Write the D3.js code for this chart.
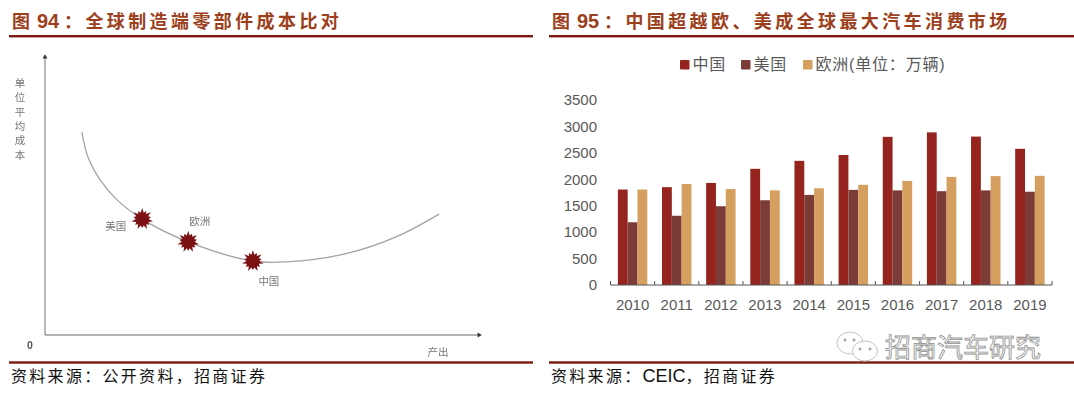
<!DOCTYPE html>
<html>
<head>
<meta charset="utf-8">
<script src="https://cdn.jsdelivr.net/npm/d3@7"></script>
<style>
	html, body { margin: 0; padding: 0; background: #fff; }
	svg { display: block; }
	text { font-family: "Liberation Sans", "Noto Sans CJK SC", sans-serif; }
	.title { font-size: 18px; font-weight: 700; fill: #9b3f1c; letter-spacing: 3.4px; }
	.title .num { font-size: 20px; letter-spacing: 0; }
	.source { font-size: 16px; fill: #111; letter-spacing: 2.3px; }
	.source .latin { font-size: 18px; letter-spacing: 0; }
	.axis text { font-size: 15px; fill: #595959; font-family: "Liberation Sans", sans-serif; }
	.legend-label { font-size: 16px; fill: #595959; letter-spacing: 0.8px; }
	.sketch-label { font-size: 10.5px; fill: #777; filter: blur(0.3px); }
</style>
</head>
<body>
<svg id="page" width="1074" height="394"></svg>
<script>
// right chart: sales per region, 10k vehicles
let years = [2010, 2011, 2012, 2013, 2014, 2015, 2016, 2017, 2018, 2019];
let china = [1806, 1851, 1931, 2198, 2349, 2460, 2803, 2888, 2808, 2577];
let usa = [1187, 1310, 1490, 1603, 1704, 1800, 1790, 1775, 1790, 1765];
let europe = [1806, 1912, 1815, 1790, 1830, 1895, 1970, 2045, 2060, 2065];
let seriesNames = ['中国', '美国', '欧洲(单位：万辆)'];
let seriesColors = ['#95241f', '#7b3b37', '#d5a05f'];
let yTicks = [0, 500, 1000, 1500, 2000, 2500, 3000, 3500];

// left chart: schematic cost curve, both axes on a 0-100 scale
let curveOutput = [8.5, 9.9, 12.7, 16.6, 22.4, 33, 47.9, 55.5, 68.9, 80.9, 90.8];
let curveCost = [73, 64, 55.8, 48.6, 41.7, 33.5, 26.6, 26.3, 29.1, 35.3, 43.5];
let markerNames = ['美国', '欧洲', '中国'];
let markerOutput = [22.4, 33, 47.9];
let markerCost = [41.7, 33.5, 26.6];

let svg = d3.select('#page');

function drawFrame(x0, x1, num, rest, sourceParts) {
	let g = svg.append('g');
	g.append('rect').attr('x', x0).attr('y', 35).attr('width', x1 - x0).attr('height', 2.4).attr('fill', '#7a1a10');
	g.append('rect').attr('x', x0).attr('y', 361.3).attr('width', x1 - x0).attr('height', 2.4).attr('fill', '#7a1a10');

	let t = g.append('text').attr('class', 'title').attr('y', 28);
	t.append('tspan').attr('x', x0 + 3).text('图');
	t.append('tspan').attr('class', 'num').attr('x', x0 + 28).text(num);
	t.append('tspan').attr('x', x0 + 55).text('：' + rest);

	let s = g.append('text').attr('class', 'source').attr('x', x0 + 2).attr('y', 382);
	sourceParts.forEach(part => {
		s.append('tspan').attr('class', /^[A-Z]+$/.test(part) ? 'latin' : null).text(part);
	});
}

drawFrame(9, 533, '94', '全球制造端零部件成本比对', ['资料来源：公开资料，招商证券']);
drawFrame(549, 1074, '95', '中国超越欧、美成全球最大汽车消费市场', ['资料来源：', 'CEIC', '，招商证券']);


/**
* the hand drawn looking cost curve on the left
*/
function drawCostCurve() {
	let xScale = d3.scaleLinear().domain([0, 100]).range([45, 479]);
	let yScale = d3.scaleLinear().domain([0, 100]).range([335, 57]);
	let g = svg.append('g');

	// axes with small arrow heads
	g.append('line').attr('x1', xScale(0)).attr('x2', xScale(0)).attr('y1', yScale(0)).attr('y2', yScale(100))
		.attr('stroke', '#8a8a8a').attr('stroke-width', 1.2);
	g.append('line').attr('x1', xScale(0)).attr('x2', xScale(100)).attr('y1', yScale(0)).attr('y2', yScale(0))
		.attr('stroke', '#666').attr('stroke-width', 1.2);
	g.append('path').attr('d', d3.symbol(d3.symbolTriangle, 10))
		.attr('transform', 'translate(' + xScale(0) + ',' + yScale(100) + ')').attr('fill', '#333');
	g.append('path').attr('d', d3.symbol(d3.symbolTriangle, 10))
		.attr('transform', 'translate(' + xScale(100) + ',' + yScale(0) + ') rotate(90)').attr('fill', '#333');

	let line = d3.line()
		.x((d, i) => xScale(curveOutput[i]))
		.y((d, i) => yScale(curveCost[i]))
		.curve(d3.curveCatmullRom);
	g.append('path').attr('d', line(curveOutput))
		.attr('fill', 'none').attr('stroke', '#a3a3a3').attr('stroke-width', 1.3);

	// burst markers
	let spikes = d3.range(28).map(i => [i / 28 * 2 * Math.PI, i % 2 ? 6.5 : (i % 4 ? 9 : 11)]);
	let burst = d3.lineRadial().curve(d3.curveLinearClosed)(spikes);
	markerNames.forEach((name, i) => {
		g.append('path').attr('d', burst)
			.attr('transform', 'translate(' + xScale(markerOutput[i]) + ',' + yScale(markerCost[i]) + ')')
			.attr('fill', '#7c1113');
	});

	let labelDx = [-26.5, 11.5, 16];
	let labelDy = [11, -17, 24];
	markerNames.forEach((name, i) => {
		g.append('text').attr('class', 'sketch-label')
			.attr('x', xScale(markerOutput[i]) + labelDx[i])
			.attr('y', yScale(markerCost[i]) + labelDy[i])
			.attr('text-anchor', 'middle')
			.text(name);
	});

	// vertical axis title, one glyph per line
	'单位平均成本'.split('').forEach((ch, i) => {
		g.append('text').attr('class', 'sketch-label')
			.attr('x', 20).attr('y', 87 + i * 14.3).attr('text-anchor', 'middle').text(ch);
	});
	g.append('text').attr('class', 'sketch-label').attr('x', 438).attr('y', 356).attr('text-anchor', 'middle').text('产出');
	g.append('text').attr('class', 'sketch-label').attr('x', 30).attr('y', 349).attr('text-anchor', 'middle')
		.style('font-weight', 700).style('fill', '#555').text('0');
}


/**
* grouped bars on the right
*/
function drawBars() {
	let margin = { left: 610.5, right: 1052, top: 100, bottom: 285 };
	let x = d3.scaleBand().domain(years).range([margin.left, margin.right]).paddingInner(1 / 3).paddingOuter(1 / 6);
	let y = d3.scaleLinear().domain([0, 3500]).range([margin.bottom, margin.top]);
	let inner = d3.scaleBand().domain([0, 1, 2]).range([0, x.bandwidth()]);
	let series = [china, usa, europe];

	let g = svg.append('g');

	series.forEach((values, s) => {
		g.append('g').selectAll('rect')
			.data(values)
			.enter()
			.append('rect')
			.attr('x', (d, i) => x(years[i]) + inner(s))
			.attr('y', d => y(d))
			.attr('width', inner.bandwidth())
			.attr('height', d => y(0) - y(d))
			.attr('fill', seriesColors[s]);
	});

	let yAxis = d3.axisLeft(y).tickValues(yTicks).tickSize(0).tickPadding(0).tickFormat(d3.format('d'));
	g.append('g').attr('class', 'axis').attr('transform', 'translate(597,0)').call(yAxis)
		.call(a => a.select('.domain').remove());

	let xAxis = d3.axisBottom(x).tickSize(0).tickPadding(14).tickFormat(d3.format('d'));
	g.append('g').attr('class', 'axis').attr('transform', 'translate(0,' + y(0) + ')').call(xAxis)
		.call(a => a.select('.domain').remove());

	// baseline with ticks on the band edges, pointing up
	let edges = d3.range(years.length + 1).map(i => margin.left + i * x.step());
	let base = g.append('g').attr('stroke', '#555');
	base.append('line').attr('x1', margin.left).attr('x2', margin.right).attr('y1', y(0)).attr('y2', y(0));
	base.selectAll('.edge').data(edges).enter().append('line').attr('class', 'edge')
		.attr('x1', d => d).attr('x2', d => d).attr('y1', y(0)).attr('y2', y(0) - 4);

	// legend
	let legendX = [680, 741, 803];
	seriesNames.forEach((name, i) => {
		g.append('rect').attr('x', legendX[i]).attr('y', 60).attr('width', 9.5).attr('height', 9.5).attr('rx', 1).attr('fill', seriesColors[i]);
		g.append('text').attr('class', 'legend-label').attr('x', legendX[i] + 12.5).attr('y', 70).text(name);
	});
}


/**
* wechat watermark in the lower right corner
*/
function drawWatermark() {
	let g = svg.append('g').attr('fill', '#fff').attr('stroke', '#b5b5b5').attr('stroke-width', 0.8);
	g.append('ellipse').attr('cx', 850).attr('cy', 343).attr('rx', 13).attr('ry', 11);
	g.append('ellipse').attr('cx', 865).attr('cy', 351).attr('rx', 12.5).attr('ry', 10);
	let eyes = [[845, 340], [854, 340], [860, 349], [870, 349]];
	g.selectAll('circle').data(eyes).enter().append('circle')
		.attr('cx', d => d[0]).attr('cy', d => d[1]).attr('r', 1.2).attr('fill', '#999');
	g.append('text').attr('x', 885).attr('y', 357)
		.style('font-size', '26px').attr('stroke', '#8f8f8f').attr('stroke-width', 0.8)
		.text('招商汽车研究');
}

drawCostCurve();
drawBars();
drawWatermark();
</script>
</body>
</html>
